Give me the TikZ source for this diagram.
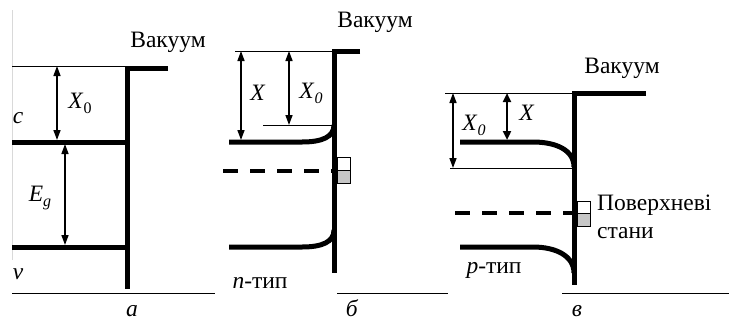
\documentclass[tikz,border=0pt]{standalone}
\usepackage{fontspec}
\setmainfont{Liberation Serif}
\usetikzlibrary{arrows.meta}
\newcommand\lowsub[1]{\raisebox{-0.45ex}{\fontsize{16}{16}\selectfont #1}}
\tikzset{
  band/.style={line width=5pt},
  wall/.style={line width=5pt, line join=miter},
  thinl/.style={line width=0.9pt},
  dimarrow/.style={line width=1.5pt, {Triangle[length=10pt,width=7pt]}-{Triangle[length=10pt,width=7pt]}},
  dimthick/.style={line width=2.6pt, {Triangle[length=9pt,width=8pt]}-{Triangle[length=9pt,width=8pt]}},
  fermi/.style={line width=3.5pt, dash pattern=on 15pt off 12pt},
  lbl/.style={font=\fontsize{23.5}{25}\selectfont, inner sep=0pt},
  stbox/.style={draw, line width=0.8pt},
}
\begin{document}
\begin{tikzpicture}[x=1pt,y=-1pt]
\useasboundingbox (0,0) rectangle (729,322);
% ---------- panel a ----------
\coordinate (aVL) at (12,66);
\coordinate (aVR) at (127,66);
\coordinate (aStub) at (168,68);
\coordinate (aTop) at (127,68);
\coordinate (aBot) at (127,289);
\coordinate (aCL) at (12,142);
\coordinate (aCR) at (127,142);
\coordinate (aVbL) at (12,247);
\coordinate (aVbR) at (127,247);
\draw[gray!30, line width=0.7pt] (12,10) -- (12,260);
\draw[thinl] (aVL) -- (aVR);
\draw[wall] (aStub) -- (aTop) -- (aBot);
\draw[band] (aCL) -- (aCR);
\draw[band] (aVbL) -- (aVbR);
\coordinate (aX1) at (57,66);
\coordinate (aX2) at (57,140);
\coordinate (aE1) at (65,144);
\coordinate (aE2) at (65,245);
\draw[dimarrow] (aX1) -- (aX2);
\draw[dimarrow] (aE1) -- (aE2);
\node[lbl] (aXlab) at (80,103) {\textit{X}\lowsub{0}};
\node[lbl] (aElab) at (40,198) {\textit{E}\lowsub{\textit{g}}};
\node[lbl] (aclab) at (18,118) {\textit{c}};
\node[lbl] (avlab) at (18,274) {\textit{v}};
\node[lbl] (avac) at (168,42) {Вакуум};
\draw[thinl] (12,293) -- (215,293);
\node[lbl, anchor=base] (alab) at (132,316) {\textit{а}};
% ---------- panel b ----------
\coordinate (bVL) at (235,51);
\coordinate (bVR) at (334,51);
\coordinate (bStub) at (360,51);
\coordinate (bBot) at (334,273);
\draw[thinl] (bVL) -- (bVR);
\draw[wall] (bStub) -- (bVR) -- (bBot);
\draw[band] (229,142) -- (302,142) .. controls (322,142) and (334,137) .. (334,125);
\draw[band] (229,247) -- (302,247) .. controls (322,247) and (334,242) .. (334,230);
\draw[thinl] (263,125) -- (334,125);
\draw[fermi] (223,171) -- (334,171);
\draw[stbox, fill=white] (337,157) rectangle (350,170);
\draw[stbox, fill=gray!45] (337,170) rectangle (350,183);
\draw[dimarrow] (241,51) -- (241,140);
\draw[dimarrow] (289,51) -- (289,125);
\node[lbl] (bXlab) at (258,93) {\textit{X}};
\node[lbl] (bX0lab) at (311,93) {\textit{X}\lowsub{\textit{0}}};
\node[lbl] (bvac) at (375,22) {Вакуум};
\node[lbl] (bn) at (260,283) {\textit{n}-тип};
\draw[thinl] (337,293) -- (448,293);
\node[lbl, anchor=base] (blab) at (352,316) {\textit{б}};
% ---------- panel c ----------
\coordinate (cVL) at (445,93);
\coordinate (cVR) at (574,93);
\coordinate (cStub) at (646,93);
\coordinate (cBot) at (574,285);
\draw[thinl] (cVL) -- (cVR);
\draw[wall] (cStub) -- (cVR) -- (cBot);
\draw[band] (460,142) -- (533,142) .. controls (556,142) and (574,150) .. (574,167);
\draw[band] (460,247) -- (533,247) .. controls (556,247) and (574,256) .. (574,273);
\draw[thinl] (450,168) -- (574,168);
\draw[fermi] (455,213) -- (574,213);
\draw[stbox, fill=white] (577,201) rectangle (590,213);
\draw[stbox, fill=gray!45] (577,213) rectangle (590,226);
\draw[dimarrow] (453,93) -- (453,168);
\draw[dimthick] (507,93) -- (507,140);
\node[lbl] (cX0lab) at (474,125) {\textit{X}\lowsub{\textit{0}}};
\node[lbl] (cXlab) at (527,113) {\textit{X}};
\node[lbl] (cvac) at (622,68) {Вакуум};
\node[lbl, anchor=west] (cs1) at (597,205) {Поверхневі};
\node[lbl, anchor=west] (cs2) at (597,233) {стани};
\node[lbl] (cp) at (494,270) {\textit{p}-тип};
\draw[thinl] (562,293) -- (729,293);
\node[lbl, anchor=base] (clab) at (577,316) {\textit{в}};
\end{tikzpicture}
\end{document}
